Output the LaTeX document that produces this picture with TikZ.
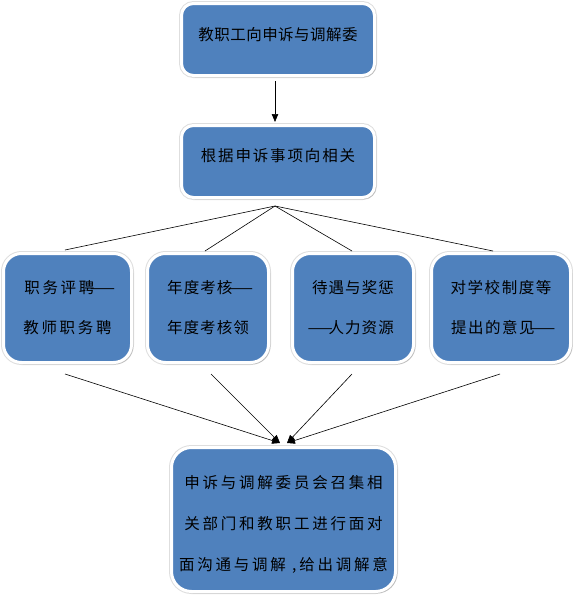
\documentclass[tikz,border=0pt]{standalone}
\usepackage{fontspec}
\usepackage{graphicx}
\newfontfamily\cjk{Noto Sans CJK SC}
\usetikzlibrary{arrows.meta,shadows}
\definecolor{boxblue}{RGB}{79,129,189}
\newcommand{\fdash}{\makebox[1.05em]{\scalebox{1.9}[1]{—}}}
\tikzset{
  box/.style={rounded corners=#1, fill=boxblue, draw=white, line width=3pt, inner sep=0pt,
    preaction={draw=black!13, line width=5pt},
    drop shadow={shadow xshift=1.8pt, shadow yshift=-1.8pt, fill=black!45, opacity=0.4}},
  box/.default=12pt,
  txt/.style={align=center, inner sep=0pt, text=black},
  conn/.style={draw=black, line width=0.6pt},
  arr/.style={conn, -{Triangle[length=8pt,width=6.5pt]}}
}
\begin{document}
\begin{tikzpicture}[x=1pt,y=-1pt]
\useasboundingbox (0,0) rectangle (573,595);
% boxes
\node[box, minimum width=193pt, minimum height=72pt] (b1) at (278,39.5) {};
\node[box, minimum width=193pt, minimum height=72pt] (b2) at (278,161.5) {};
\node[box=18pt, minimum width=128pt, minimum height=109pt] (ba) at (67.5,308) {};
\node[box=18pt, minimum width=121pt, minimum height=109pt] (bb) at (208,308) {};
\node[box=18pt, minimum width=121pt, minimum height=109pt] (bc) at (353,308) {};
\node[box=18pt, minimum width=139pt, minimum height=109pt] (bd) at (501,308) {};
\node[box=20pt, minimum width=224pt, minimum height=144pt] (be) at (283.5,519.5) {};
% texts
\node[txt, font={\cjk\fontsize{15.5}{40}\selectfont\addfontfeatures{LetterSpace=3}}] (t1) at ([yshift=5pt]b1.center) {教职工向申诉与调解委};
\node[txt, font={\cjk\fontsize{15.5}{40}\selectfont\addfontfeatures{LetterSpace=12}}] (t2) at ([yshift=6pt]b2.center) {根据申诉事项向相关};
\node[txt, font={\cjk\fontsize{15.5}{40}\selectfont\addfontfeatures{LetterSpace=17}}] (ta) at (ba.center) {职务评聘\fdash\\教师职务聘};
\node[txt, font={\cjk\fontsize{15.5}{40}\selectfont\addfontfeatures{LetterSpace=7}}] (tb) at (bb.center) {年度考核\fdash\\年度考核领};
\node[txt, font={\cjk\fontsize{15.5}{40}\selectfont\addfontfeatures{LetterSpace=7}}] (tc) at (bc.center) {待遇与奖惩\\\fdash 人力资源};
\node[txt, font={\cjk\fontsize{15.5}{40}\selectfont\addfontfeatures{LetterSpace=10}}] (td) at (bd.center) {对学校制度等\\提出的意见\fdash};
\node[txt, font={\cjk\fontsize{15.5}{41}\selectfont\addfontfeatures{LetterSpace=18}}] (te) at ([yshift=-4.5pt]be.center) {申诉与调解委员会召集相\\关部门和教职工进行面对\\面沟通与调解 ,给出调解意};
% connectors
\draw[arr] ([xshift=-3pt,yshift=-4pt]b1.south) -- ([xshift=-3pt,yshift=2pt]b2.north);
\coordinate (fan) at ([xshift=-3pt,yshift=-7pt]b2.south);
\draw[conn] (fan) -- ([xshift=-2.5pt,yshift=2pt]ba.north);
\draw[conn] (fan) -- ([xshift=-3pt,yshift=1pt]bb.north);
\draw[conn] (fan) -- ([xshift=-1pt,yshift=1pt]bc.north);
\draw[conn] (fan) -- ([xshift=-8pt,yshift=1pt]bd.north);
\draw[arr] ([xshift=-2.5pt,yshift=-10pt]ba.south) -- ([xshift=-3.5pt,yshift=3pt]be.north);
\draw[arr] ([xshift=3pt,yshift=-10pt]bb.south) -- ([xshift=-3.5pt,yshift=3pt]be.north);
\draw[arr] ([xshift=-1pt,yshift=-10pt]bc.south) -- ([xshift=3.5pt,yshift=3pt]be.north);
\draw[arr] ([xshift=-1pt,yshift=-10pt]bd.south) -- ([xshift=3.5pt,yshift=3pt]be.north);
\end{tikzpicture}
\end{document}
